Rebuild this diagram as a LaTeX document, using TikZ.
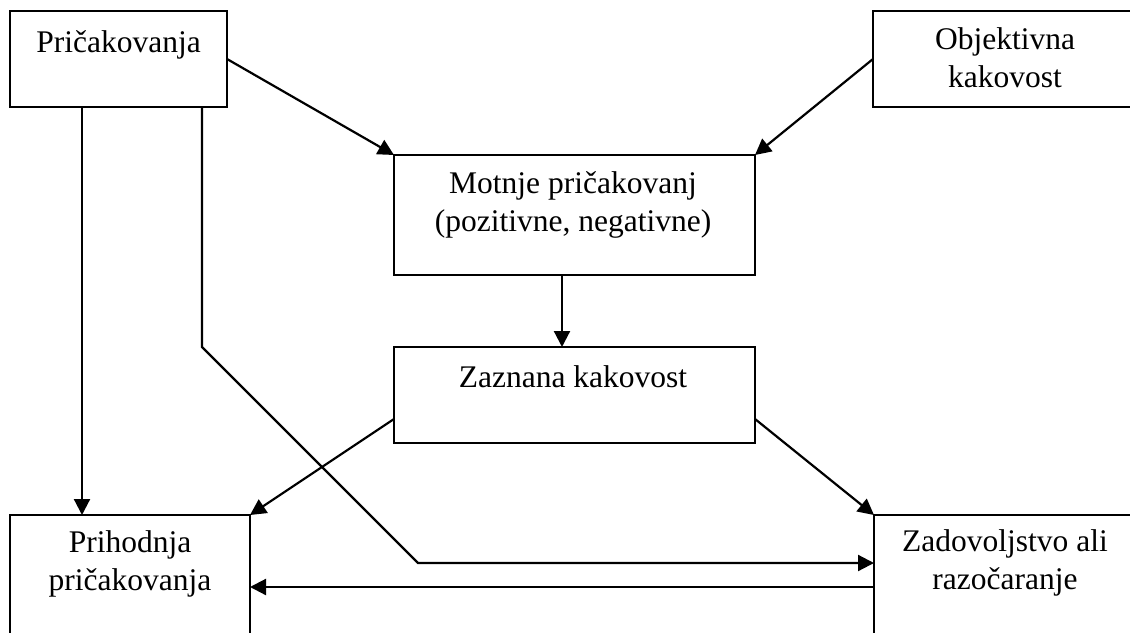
\documentclass[tikz,border=0pt]{standalone}
\usepackage{fontspec}
\setmainfont{Liberation Serif}
\usetikzlibrary{arrows.meta,calc}
\begin{document}
\begin{tikzpicture}[x=1pt,y=-1pt,
  box/.style={draw, line width=2.2pt, inner sep=0pt, outer sep=0pt, anchor=north west},
  lbl/.style={font=\fontsize{31.5}{37.5}\selectfont, align=center, anchor=base, inner sep=0pt},
  arr/.style={line width=2.2pt, -{Triangle[length=16pt,width=16pt]}}]
\useasboundingbox (0,0) rectangle (1130,632);
\clip (0,0) rectangle (1130,632);
\fill[white] (0,0) rectangle (1130,632);
% boxes
\node[box, minimum width=217pt, minimum height=96pt] (pb) at (10,11) {};
\node[box, minimum width=264pt, minimum height=96pt] (ob) at (873,11) {};
\node[box, minimum width=361pt, minimum height=120pt] (mb) at (394,155) {};
\node[box, minimum width=361pt, minimum height=96pt] (zb) at (394,347) {};
\node[box, minimum width=240pt, minimum height=150pt] (hb) at (10,515) {};
\node[box, minimum width=264pt, minimum height=150pt] (db) at (874,515) {};
% labels (base = baseline of last line)
\node[lbl] (pt) at (118.5,52) {Pričakovanja};
\node[lbl] (ot) at (1005,87) {Objektivna\\kakovost};
\node[lbl] (mt) at (573,231) {Motnje pričakovanj\\(pozitivne, negativne)};
\node[lbl] (zt) at (573,387) {Zaznana kakovost};
\node[lbl] (ht) at (130,590) {Prihodnja\\pričakovanja};
\node[lbl] (dt) at (1005,589) {Zadovoljstvo ali\\razočaranje};
% helper coordinates
\coordinate (v1) at (82,0);
\coordinate (b1) at (202,347);
\coordinate (b2) at (418,563);
\coordinate (h1) at (0,587);
\coordinate (m1) at (562,0);
% connectors
\draw[arr] (pb.east) -- (mb.north west);
\draw[arr] (ob.west) -- (mb.north east);
\draw[arr] (mb.south -| m1) -- (zb.north -| m1);
\draw[arr] ([yshift=-24pt]zb.west) -- (hb.north east);
\draw[arr] ([yshift=-24pt]zb.east) -- (db.north west);
\draw[arr] (pb.south -| v1) -- (hb.north -| v1);
\draw[arr] (pb.south -| b1) -- (b1) -- (b2) -- (b2 -| db.west);
\draw[arr] (db.west |- h1) -- (hb.east |- h1);
\end{tikzpicture}
\end{document}
